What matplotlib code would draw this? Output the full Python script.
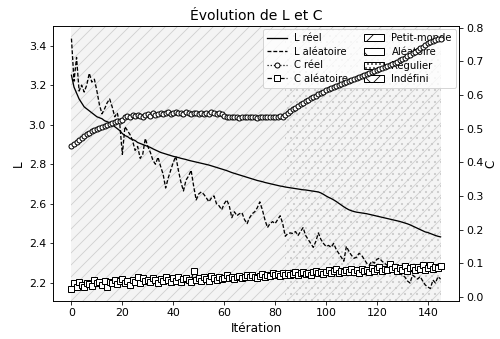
import matplotlib
matplotlib.use("Agg")
import matplotlib.pyplot as plt
from matplotlib.patches import Patch
import numpy as np

# iterations 0..145
iterations = list(range(146))

L_reel = [
    3.25, 3.19, 3.16, 3.13, 3.11, 3.09, 3.08, 3.07, 3.06, 3.05,
    3.04, 3.035, 3.03, 3.02, 3.015, 3.01, 3.0, 2.99, 2.98, 2.97,
    2.955, 2.945, 2.94, 2.93, 2.925, 2.92, 2.91, 2.905, 2.9, 2.895,
    2.89, 2.885, 2.878, 2.872, 2.866, 2.86, 2.856, 2.852, 2.848, 2.844,
    2.84, 2.837, 2.834, 2.83, 2.827, 2.824, 2.82, 2.817, 2.814, 2.811,
    2.808, 2.805, 2.802, 2.799, 2.796, 2.792, 2.788, 2.784, 2.78, 2.776,
    2.772, 2.768, 2.763, 2.758, 2.754, 2.75, 2.746, 2.742, 2.738, 2.734,
    2.73, 2.726, 2.722, 2.718, 2.715, 2.712, 2.708, 2.705, 2.702, 2.699,
    2.696, 2.693, 2.69, 2.688, 2.685, 2.683, 2.681, 2.679, 2.677, 2.675,
    2.673, 2.671, 2.67, 2.668, 2.666, 2.664, 2.662, 2.66, 2.655, 2.648,
    2.64, 2.633, 2.627, 2.62, 2.612, 2.603, 2.594, 2.585, 2.577, 2.57,
    2.565, 2.561, 2.558, 2.556, 2.554, 2.552, 2.55, 2.547, 2.544, 2.541,
    2.538, 2.535, 2.532, 2.529, 2.526, 2.523, 2.52, 2.517, 2.514, 2.511,
    2.507, 2.503, 2.499, 2.494, 2.488, 2.482, 2.476, 2.47, 2.464, 2.458,
    2.455, 2.45, 2.445, 2.44, 2.436, 2.433,
]

L_aleatoire = [
    3.435, 3.22, 3.34, 3.17, 3.20, 3.165, 3.2, 3.26, 3.215, 3.23,
    3.17, 3.10, 3.055, 3.08, 3.11, 3.13, 3.09, 3.04, 3.06, 3.0,
    2.85, 2.99, 2.97, 2.95, 2.92, 2.87, 2.89, 2.83, 2.85, 2.93,
    2.89, 2.86, 2.82, 2.80, 2.836, 2.79, 2.75, 2.68, 2.73, 2.77,
    2.81, 2.84, 2.77, 2.71, 2.665, 2.72, 2.74, 2.77, 2.69, 2.62,
    2.65, 2.66, 2.648, 2.63, 2.61, 2.63, 2.64, 2.60, 2.59, 2.57,
    2.60, 2.62, 2.59, 2.53, 2.56, 2.54, 2.55, 2.555, 2.52, 2.50,
    2.53, 2.55, 2.56, 2.58, 2.61, 2.57, 2.52, 2.48, 2.50, 2.51,
    2.50, 2.52, 2.54, 2.50, 2.436, 2.45, 2.453, 2.45, 2.46, 2.44,
    2.46, 2.48, 2.44, 2.42, 2.40, 2.38, 2.41, 2.453, 2.42, 2.40,
    2.385, 2.39, 2.38, 2.40, 2.37, 2.35, 2.33, 2.31, 2.385, 2.36,
    2.34, 2.325, 2.33, 2.35, 2.34, 2.32, 2.30, 2.29, 2.31, 2.30,
    2.32, 2.325, 2.31, 2.30, 2.29, 2.29, 2.28, 2.27, 2.266, 2.25,
    2.24, 2.23, 2.21, 2.20, 2.24, 2.23, 2.22, 2.232, 2.21, 2.19,
    2.18, 2.172, 2.215, 2.20, 2.232, 2.22,
]

C_reel = [
    0.448, 0.455, 0.461, 0.467, 0.472, 0.478, 0.483, 0.488, 0.492, 0.496,
    0.499, 0.503, 0.506, 0.509, 0.512, 0.515, 0.518, 0.52, 0.522, 0.523,
    0.525, 0.536, 0.538, 0.535, 0.54, 0.537, 0.542, 0.539, 0.536, 0.541,
    0.543, 0.538, 0.546, 0.541, 0.544, 0.548, 0.543, 0.546, 0.549, 0.545,
    0.547, 0.55, 0.546, 0.548, 0.545, 0.549, 0.547, 0.544, 0.548, 0.546,
    0.545, 0.548, 0.544, 0.547, 0.545, 0.549, 0.546, 0.543, 0.547, 0.545,
    0.538, 0.535, 0.536, 0.534, 0.536, 0.535, 0.533, 0.536, 0.534, 0.535,
    0.536, 0.534, 0.535, 0.533, 0.536, 0.534, 0.535, 0.536, 0.534, 0.535,
    0.536, 0.535, 0.537, 0.536, 0.542, 0.548, 0.553, 0.558, 0.563, 0.568,
    0.573, 0.577, 0.582, 0.586, 0.59, 0.594, 0.598, 0.602, 0.606, 0.61,
    0.614, 0.618, 0.621, 0.625, 0.628, 0.631, 0.634, 0.637, 0.64, 0.643,
    0.646, 0.649, 0.652, 0.655, 0.658, 0.661, 0.664, 0.667, 0.67, 0.672,
    0.675, 0.678, 0.681, 0.684, 0.687, 0.69, 0.693, 0.696, 0.699, 0.703,
    0.707, 0.711, 0.715, 0.72, 0.724, 0.729, 0.734, 0.739, 0.744, 0.749,
    0.754, 0.758, 0.762, 0.765, 0.767, 0.768,
]

C_aleatoire = [
    0.025, 0.04, 0.03, 0.045, 0.035, 0.03, 0.042, 0.038, 0.033, 0.05,
    0.04, 0.045, 0.036, 0.048, 0.03, 0.044, 0.04, 0.05, 0.038, 0.046,
    0.052, 0.042, 0.048, 0.035, 0.05, 0.045, 0.058, 0.04, 0.055, 0.047,
    0.05, 0.043, 0.056, 0.049, 0.04, 0.052, 0.046, 0.058, 0.05, 0.045,
    0.055, 0.048, 0.06, 0.044, 0.052, 0.057, 0.049, 0.045, 0.078, 0.05,
    0.056, 0.046, 0.06, 0.053, 0.048, 0.062, 0.055, 0.05, 0.06, 0.052,
    0.057, 0.064, 0.055, 0.06, 0.052, 0.058, 0.062, 0.055, 0.06, 0.064,
    0.058, 0.066, 0.06, 0.056, 0.063, 0.068, 0.06, 0.065, 0.062, 0.07,
    0.064, 0.068, 0.062, 0.07, 0.066, 0.072, 0.064, 0.069, 0.074, 0.066,
    0.07, 0.075, 0.068, 0.072, 0.065, 0.073, 0.078, 0.07, 0.075, 0.068,
    0.074, 0.079, 0.071, 0.076, 0.082, 0.07, 0.077, 0.073, 0.08, 0.075,
    0.082, 0.074, 0.079, 0.072, 0.084, 0.077, 0.08, 0.074, 0.086, 0.078,
    0.082, 0.088, 0.076, 0.083, 0.079, 0.098, 0.084, 0.09, 0.078, 0.085,
    0.081, 0.093, 0.077, 0.086, 0.09, 0.08, 0.088, 0.083, 0.094, 0.079,
    0.087, 0.096, 0.082, 0.09, 0.085, 0.092,
]

# regime regions (start, end)
regime_petit_monde = (0, 84)
regime_regulier = (84, 145)

DPI = 72
fig, ax = plt.subplots(figsize=(500 / DPI, 339 / DPI), dpi=DPI)
fig.subplots_adjust(left=0.106, right=0.918, top=0.923, bottom=0.112)
plt.rcParams['hatch.linewidth'] = 0.8

# background regimes
ax.axvspan(regime_petit_monde[0], regime_regulier[1], facecolor='#f4f4f4',
           edgecolor='#cfcfcf', hatch='//', lw=0, zorder=0)
ax.axvspan(regime_regulier[0], regime_regulier[1], facecolor='none',
           edgecolor='#c8c8c8', hatch='..', lw=0, zorder=0)

l1, = ax.plot(iterations, L_reel, '-', color='black', lw=1.3, label='L réel')
l2, = ax.plot(iterations, L_aleatoire, '--', color='black', lw=1.3,
              dashes=(3, 1.5), label='L aléatoire')
ax.set_xlabel('Itération', fontsize=12)
ax.set_ylabel('L', fontsize=12)
ax.tick_params(labelsize=11)

ax2 = ax.twinx()
l3, = ax2.plot(iterations, C_reel, ':', color='black', marker='o', ms=5,
               mfc='white', mec='black', mew=1.0, lw=1.2, label='C réel')
l4, = ax2.plot(iterations, C_aleatoire, '--', color='black', marker='s', ms=5.5,
               mfc='white', mec='black', mew=1.0, lw=1.2, label='C aléatoire')
ax2.set_ylabel('C', fontsize=12, labelpad=1)
ax2.tick_params(labelsize=11)

ax.set_title('Évolution de L et C', fontsize=14)

regime_handles = [
    Patch(facecolor='white', edgecolor='black', hatch='/', label='Petit-monde'),
    Patch(facecolor='white', edgecolor='black', hatch='\\', label='Aléatoire'),
    Patch(facecolor='white', edgecolor='black', hatch='...', label='Régulier'),
    Patch(facecolor='white', edgecolor='black', hatch='x', label='Indéfini'),
]
ax.legend(handles=[l1, l2, l3, l4] + regime_handles, ncol=2, loc='upper right',
          fontsize=10, borderaxespad=0.3, labelspacing=0.35, columnspacing=1.5)

fig.savefig('out.png', dpi=DPI)
